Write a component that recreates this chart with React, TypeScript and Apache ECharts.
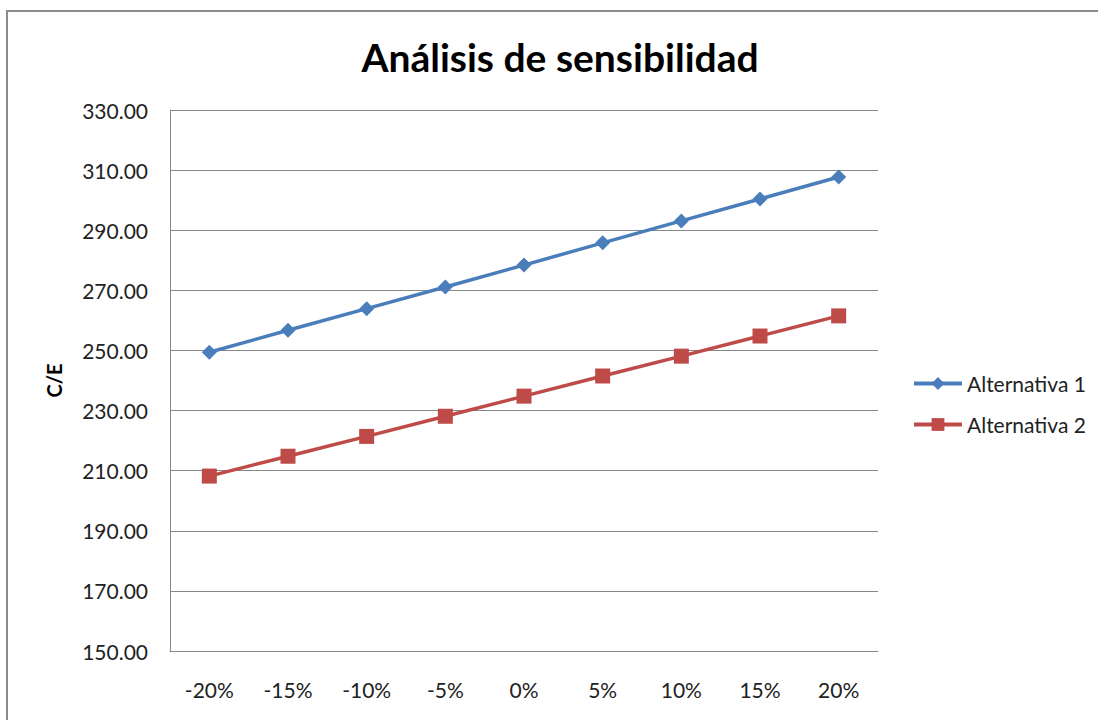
import React, { useEffect, useRef } from "react";
import * as echarts from "echarts";

const categories = ["-20%", "-15%", "-10%", "-5%", "0%", "5%", "10%", "15%", "20%"];
const alternativa1 = [249.4, 256.7, 263.9, 271.1, 278.4, 285.8, 293.1, 300.4, 307.7];
const alternativa2 = [208.2, 214.8, 221.4, 228.1, 234.8, 241.5, 248.1, 254.8, 261.5];
const yTicks = { min: 150, max: 330, interval: 20 };

const FONT = "Lato, 'Open Sans', sans-serif";

export default function App() {
  const ref = useRef<HTMLDivElement>(null);
  useEffect(() => {
    if (!ref.current) return;
    const chart = echarts.init(ref.current, null, { renderer: "svg" });
    chart.setOption({
      animation: false,
      backgroundColor: "transparent",
      title: {
        text: "Análisis de sensibilidad",
        left: 555,
        top: 32,
        textAlign: "center",
        textStyle: { fontFamily: FONT, fontSize: 39, fontWeight: "bold", color: "#000" },
      },
      grid: { left: 170, top: 110, width: 708, height: 541 },
      legend: {
        orient: "vertical",
        left: 912,
        top: 373,
        padding: 0,
        itemGap: 20,
        itemWidth: 48,
        itemHeight: 16,
        textStyle: { fontFamily: FONT, fontSize: 21, color: "#222" },
        lineStyle: { width: 4 },
        data: ["Alternativa 1", "Alternativa 2"],
      },
      xAxis: {
        type: "category",
        data: categories,
        boundaryGap: true,
        axisLine: { lineStyle: { color: "#888", width: 1 } },
        axisTick: { show: false },
        axisLabel: { fontFamily: FONT, fontSize: 21, color: "#222", margin: 28 },
      },
      yAxis: {
        type: "value",
        min: yTicks.min,
        max: yTicks.max,
        interval: yTicks.interval,
        name: "C/E",
        nameLocation: "middle",
        nameGap: 106,
        nameRotate: 90,
        nameTextStyle: { fontFamily: FONT, fontSize: 20, fontWeight: "bold", color: "#000" },
        axisLine: { show: true, lineStyle: { color: "#888", width: 1 } },
        axisTick: { show: false },
        splitLine: { lineStyle: { color: "#888", width: 1 } },
        axisLabel: {
          fontFamily: FONT,
          fontSize: 21,
          color: "#222",
          margin: 22,
          formatter: (v: number) => v.toFixed(2),
        },
      },
      series: [
        {
          name: "Alternativa 1",
          type: "line",
          data: alternativa1,
          symbol: "diamond",
          symbolSize: 15,
          lineStyle: { color: "#4A7EBB", width: 3.5 },
          itemStyle: { color: "#4A7EBB" },
        },
        {
          name: "Alternativa 2",
          type: "line",
          data: alternativa2,
          symbol: "rect",
          symbolSize: 15,
          lineStyle: { color: "#BE4B48", width: 3.5 },
          itemStyle: { color: "#BE4B48" },
        },
      ],
    });
    return () => chart.dispose();
  }, []);

  return (
    <div
      style={{
        position: "fixed",
        left: 0,
        top: 0,
        width: 1098,
        height: 720,
        background: "#fff",
        overflow: "hidden",
      }}
    >
      <div ref={ref} style={{ position: "absolute", left: 0, top: 0, width: 1098, height: 720 }} />
      <div
        style={{
          position: "absolute",
          left: 6,
          top: 10,
          width: 1092,
          height: 710,
          borderTop: "2px solid #8c8c8c",
          borderLeft: "2px solid #8c8c8c",
          boxSizing: "border-box",
          pointerEvents: "none",
        }}
      />
    </div>
  );
}
